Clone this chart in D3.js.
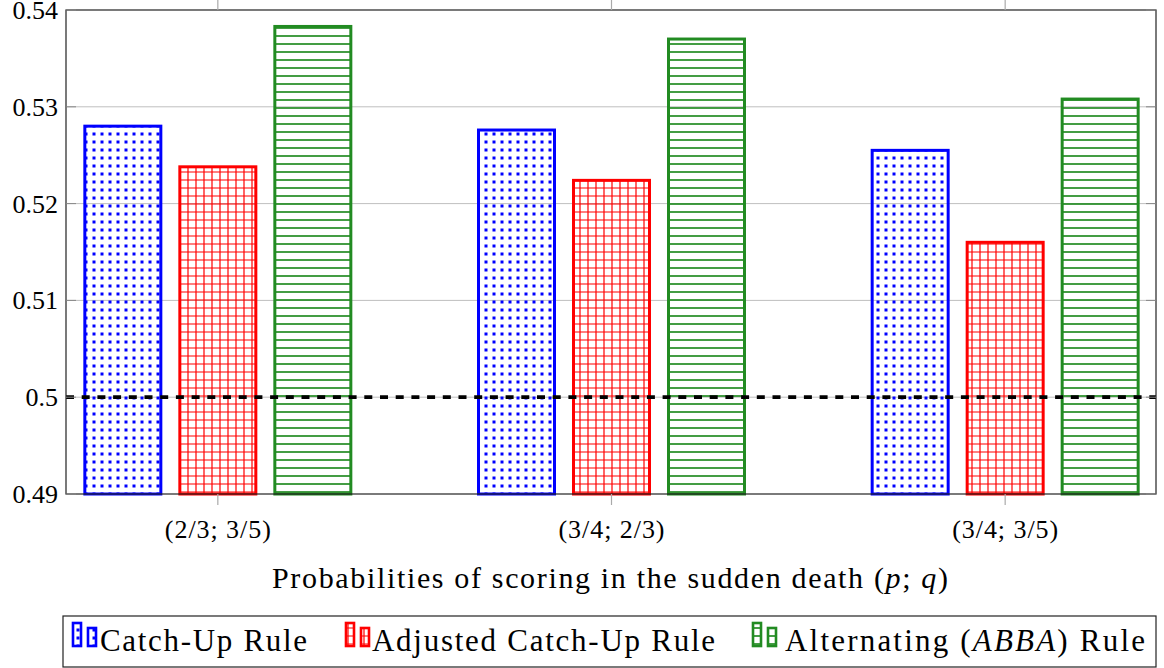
<!DOCTYPE html>
<html><head><meta charset="utf-8">
<script src="https://cdn.jsdelivr.net/npm/d3@7"></script>
<style>body{margin:0;background:#fff}svg{display:block}text{font-family:"Liberation Serif","DejaVu Serif",serif;fill:#000}</style>
</head><body><svg id="c" width="1164" height="668"></svg>
<script>
const categories = ["(2/3; 3/5)", "(3/4; 2/3)", "(3/4; 3/5)"];
const seriesNames = ["Catch-Up Rule", "Adjusted Catch-Up Rule", "Alternating (ABBA) Rule"];
const catchUp = [0.5280, 0.5276, 0.5255];
const adjusted = [0.5238, 0.5224, 0.5160];
const alternating = [0.5383, 0.5370, 0.5308];
const yTicks = [0.49, 0.50, 0.51, 0.52, 0.53, 0.54];
const refLine = 0.5;
const colors = ["#0000ff", "#ff0000", "#228b22"];
const seriesValues = [catchUp, adjusted, alternating];

const svg = d3.select("#c");
const L = 66, R = 1156, T = 10, B = 494;
const y = d3.scaleLinear().domain([0.49, 0.54]).range([B, T]);
// category positions: band scale over the plot, padded so centers fall at ~218, 612, 1005
const x = d3.scaleBand().domain(categories).range([21, 1202]);
const cx = d => x(d) + x.bandwidth() / 2;
const barW = 76, step = 95;
const off = d3.scaleLinear().domain([0,2]).range([-step, step]);

// patterns
const defs = svg.append("defs");
const pd = defs.append("pattern").attr("id","p0").attr("patternUnits","userSpaceOnUse").attr("width",8).attr("height",8).attr("x",2).attr("y",2);
pd.append("rect").attr("x",2.5).attr("y",2.5).attr("width",3).attr("height",3).attr("fill",colors[0]);
const pg = defs.append("pattern").attr("id","p1").attr("patternUnits","userSpaceOnUse").attr("width",8).attr("height",8);
pg.append("path").attr("d","M0,4H8M4,0V8").attr("stroke",colors[1]).attr("stroke-width",1.2);
const ph = defs.append("pattern").attr("id","p2").attr("patternUnits","userSpaceOnUse").attr("width",8).attr("height",8);
ph.append("path").attr("d","M0,4H8").attr("stroke",colors[2]).attr("stroke-width",1.7);

// grid
svg.append("g").selectAll("line").data(yTicks.slice(1,-1)).join("line")
  .attr("x1",L).attr("x2",R).attr("y1",d=>y(d)).attr("y2",d=>y(d))
  .attr("stroke","#bfbfbf").attr("stroke-width",1);

seriesValues.forEach((vals, si) => {
  svg.append("g").selectAll("rect").data(vals).join("rect")
    .attr("x", (d,i) => cx(categories[i]) + off(si) - barW/2)
    .attr("y", d => y(d))
    .attr("width", barW)
    .attr("height", d => y(0.49) - y(d))
    .attr("fill", `url(#p${si})`)
    .attr("stroke", colors[si]).attr("stroke-width", 3);
});

// dashed ref line
svg.append("line").attr("x1",L).attr("x2",R).attr("y1",y(refLine)).attr("y2",y(refLine))
  .attr("stroke","#000").attr("stroke-width",3.8).attr("stroke-dasharray","8,7.7");

// frame
svg.append("rect").attr("x",L).attr("y",T).attr("width",R-L).attr("height",B-T)
  .attr("fill","none").attr("stroke","#222").attr("stroke-width",1.2);

// y ticks small marks
yTicks.forEach(t=>{
  svg.append("line").attr("x1",L).attr("x2",L+10).attr("y1",y(t)).attr("y2",y(t)).attr("stroke","#888").attr("stroke-width",1);
  svg.append("line").attr("x1",R-10).attr("x2",R).attr("y1",y(t)).attr("y2",y(t)).attr("stroke","#888").attr("stroke-width",1);
});
svg.append("g").selectAll("text").data(yTicks).join("text")
  .attr("x", L-8).attr("y", d=>y(d)+9).attr("text-anchor","end")
  .style("font-size","26px").text(d=>String(+d.toFixed(2)));

// x ticks
categories.forEach(c=>{
  svg.append("line").attr("x1",cx(c)).attr("x2",cx(c)).attr("y1",B).attr("y2",B+11).attr("stroke","#aaa").attr("stroke-width",1.2);
  svg.append("line").attr("x1",cx(c)).attr("x2",cx(c)).attr("y1",0).attr("y2",T).attr("stroke","#aaa").attr("stroke-width",1.2);
});
svg.append("g").selectAll("text").data(categories).join("text")
  .attr("x", d=>cx(d)).attr("y", 538).attr("text-anchor","middle")
  .attr("textLength", 106).attr("lengthAdjust","spacing")
  .style("font-size","26px").text(d=>d);

// x axis label
const xl = svg.append("text").attr("x", 610).attr("y", 588).attr("text-anchor","middle").style("font-size","30px")
  .attr("textLength", 676).attr("lengthAdjust","spacing");
xl.append("tspan").text("Probabilities of scoring in the sudden death (");
xl.append("tspan").style("font-style","italic").text("p");
xl.append("tspan").text("; ");
xl.append("tspan").style("font-style","italic").text("q");
xl.append("tspan").text(")");

// legend
svg.append("rect").attr("x",63).attr("y",616).attr("width",1093).attr("height",51)
  .attr("fill","#fff").attr("stroke","#222").attr("stroke-width",1.2);
const legX = [72, 345, 752];
const legTextX = [100, 372, 785];
const legW = [207, 343, 360];
seriesNames.forEach((n,i)=>{
  const g = svg.append("g");
  g.append("rect").attr("x",legX[i]+1).attr("y",623).attr("width",8).attr("height",23).attr("fill",`url(#p${i})`).attr("stroke",colors[i]).attr("stroke-width",2.6);
  g.append("rect").attr("x",legX[i]+16).attr("y",628).attr("width",8).attr("height",18).attr("fill",`url(#p${i})`).attr("stroke",colors[i]).attr("stroke-width",2.6);
  const t = g.append("text").attr("x",legTextX[i]).attr("y",651).style("font-size","31px")
    .attr("textLength", legW[i]).attr("lengthAdjust","spacing");
  if (i===2) {
    t.append("tspan").text("Alternating (");
    t.append("tspan").style("font-style","italic").text("ABBA");
    t.append("tspan").text(") Rule");
  } else t.text(n);
});
</script></body></html>
